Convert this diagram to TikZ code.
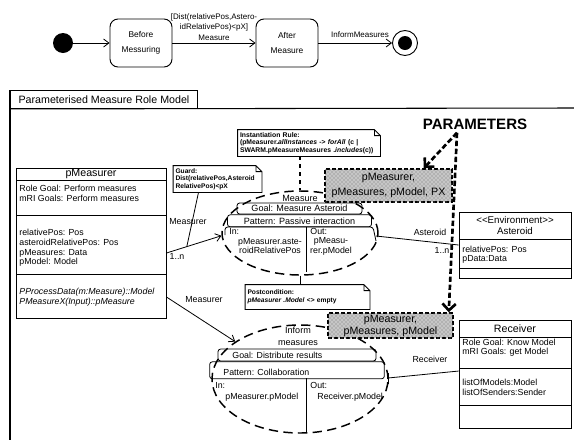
\documentclass[tikz,border=0pt]{standalone}
\usepackage{fontspec}
\setmainfont{Liberation Sans}
\usetikzlibrary{positioning,calc,arrows.meta,shapes.geometric,patterns}

\tikzset{
  statebox/.style={draw, rounded corners=6pt, line width=0.7pt, minimum width=46.5pt, minimum height=36pt, align=center, inner sep=0pt, font=\fontsize{6.3}{11}\selectfont},
  classbox/.style={draw, line width=0.7pt, inner sep=0pt},
  lbl/.style={inner sep=0pt, font=\fontsize{6.6}{7.4}\selectfont},
  lblb/.style={inner sep=0pt, font=\fontsize{8}{9}\selectfont},
  rolebox/.style={draw, ellipse, dash pattern=on 7pt off 4pt, line width=1.1pt, inner sep=0pt},
  rowbar/.style={draw, rounded corners=2pt, line width=0.6pt, inner sep=0pt, font=\fontsize{6.8}{7.4}\selectfont},
  notebox/.style={align=left, inner sep=1.5pt, font=\fontsize{5}{5.7}\selectfont\bfseries},
  parambox/.style={draw, dash pattern=on 3pt off 1.5pt, line width=1.1pt, fill=gray!45, postaction={pattern=crosshatch dots, pattern color=black!55}, align=center, inner sep=0pt},
  paramarrow/.style={dash pattern=on 4pt off 2pt, line width=2pt, -{Straight Barb[length=5pt,width=10pt]}},
  >={Straight Barb[length=4pt,width=6pt]}
}

\begin{document}
\begin{tikzpicture}[x=0.75pt,y=0.75pt,yscale=-1,xscale=1,line width=0.6pt]
\useasboundingbox (0,0) rectangle (574,440);

%Shape: Initial and final state
\node[circle, fill=black, inner sep=0pt, minimum size=15pt] (init) at (63,43) {};
\node[circle, draw, line width=0.7pt, inner sep=0pt, minimum size=18.75pt] (final) at (405,43) {};
\node[circle, fill=black, inner sep=0pt, minimum size=10.5pt] (finaldot) at (final.center) {};
%Shape: States
\node[statebox] (before) at (141,43) {Before\\Messuring};
\node[statebox] (after) at (287,43) {After\\Measure};
%Straight Lines
\draw[->] (init) -- (before);
\draw[->] (before) -- (after);
\draw[->] (after) -- (final);
% Text Node
\node[inner sep=0pt, align=center, font=\fontsize{6}{7.9}\selectfont] (guardtrans) at (214,27) {[Dist(relativePos,Astero-\\idRelativePos)<pX]\\Measure};
% Text Node
\node[inner sep=0pt, font=\fontsize{6}{7}\selectfont] (informtrans) at (360,35) {InformMeasures};

%Shape: Frame
\node[draw, line width=0.7pt, anchor=north west, minimum width=140.25pt, minimum height=13.5pt, inner sep=0pt, font=\fontsize{8}{9}\selectfont] (frametab) at (10,90) {Parameterised Measure Role Model};
\draw[line width=0.8pt] (frametab.north west) -- (10,440);
\draw[line width=0.8pt] (frametab.south west) -- (574,108);

%Shape: Class pMeasurer
\node[classbox, minimum width=112.5pt, minimum height=112.5pt] (pmeas) at (91,243) {};
\draw (16,180) -- (166,180);
\draw (16,215) -- (166,215);
\draw (16,274) -- (166,274);
% Text Node
\node[lblb] (pmeasname) at (91,174) {pMeasurer};
\node[lbl, anchor=north west, align=left] (pmeasgoal) at (19,184.5) {Role Goal: Perform measures\\mRI Goals: Perform measures};
\node[lbl, anchor=north west, align=left] (pmeasattr) at (19,228.5) {relativePos: Pos\\asteroidRelativePos: Pos\\pMeasures: Data\\pModel: Model};
\node[lbl, anchor=north west, align=left, font=\fontsize{6.6}{7.4}\selectfont\itshape] (pmeasops) at (19,287.5) {PProcessData(m:Measure)::Model\\PMeasureX(Input)::pMeasure};

%Shape: Class Asteroid
\node[classbox, minimum width=84pt, minimum height=49.5pt] (asteroid) at (515,245) {};
\draw (459,239) -- (571,239);
\draw (459,268) -- (571,268);
% Text Node
\node[lbl, align=center, font=\fontsize{7.3}{8.3}\selectfont] (astname) at (515,225.5) {<\kern0pt<Environment>\kern0pt>\\Asteroid};
\node[lbl, anchor=north west, align=left, font=\fontsize{6.6}{6.8}\selectfont] (astattr) at (462,245.5) {relativePos: Pos\\pData:Data};

%Shape: Class Receiver
\node[classbox, minimum width=84pt, minimum height=81pt] (receiver) at (515,374) {};
\draw (459,337) -- (571,337);
\draw (459,368) -- (571,368);
\draw (459,405) -- (571,405);
% Text Node
\node[lblb] (recname) at (515,329) {Receiver};
\node[lbl, anchor=north west, align=left, font=\fontsize{6.6}{6.8}\selectfont] (recgoal) at (462,338.5) {Role Goal: Know Model\\mRI Goals: get Model};
\node[lbl, anchor=north west, align=left] (recattr) at (462,378.7) {listOfModels:Model\\listOfSenders:Sender};

%Shape: Role Measure
\node[rolebox, minimum width=117pt, minimum height=63pt] (measure) at (300,233) {};
\node[lbl, font=\fontsize{6.8}{7.4}\selectfont] (measurename) at (300,198) {Measure};
\node[rowbar, minimum width=93.75pt, minimum height=8.25pt] (mgoal) at (299.5,208.5) {Goal: Measure Asteroid};
\node[rowbar, minimum width=108pt, minimum height=9pt, below=0pt of mgoal] (mpattern) {Pattern: Passive interaction};
\draw[rounded corners=2pt] (225,235) |- (373,227) -- (376,241);
\draw (306,227) -- (306,272);
% Text Node
\node[lbl, anchor=west] (min) at (229,231) {In:};
\node[lbl, align=center] (minval) at (270,246) {pMeasurer.aste-\\roidRelativePos};
\node[lbl, anchor=west] (mout) at (310,231) {Out:};
\node[lbl, align=center] (moutval) at (331,246) {pMeasu-\\rer.pModel};

%Shape: Role Inform measures
\node[rolebox, minimum width=132pt, minimum height=81pt] (inform) at (300,379) {};
\node[lbl, align=center, font=\fontsize{6.8}{9}\selectfont] (informname) at (298,336) {Inform\\measures};
\node[rowbar, minimum width=118.5pt, minimum height=9pt] (igoal) at (297,355) {};
\node[rowbar, minimum width=131pt, minimum height=12.75pt, below=0pt of igoal] (ipattern) {};
\draw (388,373) -- (388,384);
\draw (306,378) -- (306,433);
% Text Node
\node[lbl, anchor=west] (igoaltxt) at (232,355) {Goal: Distribute results};
\node[lbl, anchor=west] (ipattxt) at (223,372) {Pattern: Collaboration};
\node[lbl, anchor=west] (iin) at (215,385) {In:};
\node[lbl, anchor=west] (iinval) at (225,397) {pMeasurer.pModel};
\node[lbl, anchor=west] (iout) at (310,385) {Out:};
\node[lbl, anchor=west] (ioutval) at (317,397) {Receiver.pModel};

%Shape: Notes
\node[notebox, text width=63pt, minimum height=19.5pt] (guard) at (217.5,179) {Guard:\\Dist(relativePos,Asteroid\\RelativePos)<pX};
\node[notebox, text width=103.5pt, minimum height=19.5pt, font=\fontsize{5.1}{5.6}\selectfont\bfseries] (instrule) at (309,143) {Instantiation Rule:\\(pMeasurer.\textit{allInstances} -> \textit{forAll} (c |\\SWARM.pMeasureMeasures .\textit{includes}(c))};
\node[notebox, text width=90pt, minimum height=18pt] (postcond) at (307.5,297) {Postcondition:\\\textit{pMeasurer .Model} <> empty};
\foreach \n in {guard,instrule,postcond}
  \draw (\n.south west) -- (\n.north west) -- ($(\n.north east)+(-6,0)$) -- ($(\n.north east)+(0,6)$) -- (\n.south east) -- cycle ($(\n.north east)+(-6,0)$) |- ($(\n.north east)+(0,6)$);

%Shape: Parameter boxes
\node[parambox, minimum width=95.25pt, minimum height=24.75pt, font=\fontsize{8}{11.25}\selectfont] (pbox1) at (388.5,185.5) {pMeasurer,\\pMeasures, pModel, PX};
\node[parambox, minimum width=93.75pt, minimum height=18.75pt, font=\fontsize{8}{9}\selectfont] (pbox2) at (390.5,325.5) {pMeasurer,\\pMeasures, pModel};
% Text Node
\node[inner sep=0pt, font=\fontsize{11.3}{12}\selectfont\bfseries] (params) at (475,124) {PARAMETERS};
\coordinate (pfrom) at ($(params.south)+(-18,3)$);
\draw[paramarrow] (pfrom) -- ($(pbox1.north east)+(-29,0)$);
\draw[paramarrow] (pfrom) -- ($(pbox2.north east)+(-5,0)$);

%Straight Lines: associations
\draw[->] ($(pmeas.east)+(0,10)$) -- node[pos=0.37, coordinate] (guardpt) {} (measure.182);
\draw (guardpt) -- ($(guard.south)+(-19,0)$);
\draw[->] ($(pmeas.east)+(0,54)$) -- (inform.150);
\coordinate (moutend) at (376,236);
\draw (moutend) -- (asteroid.west);
\coordinate (ioutend) at (388,378);
\draw (ioutend) -- (receiver.177);
\draw[dashed, line width=0.8pt] (instrule.south -| measure.north) -- (measure.north);
\draw (measure.south) -- (postcond.north -| measure.south);
% Text Node
\node[lbl] (measurer1) at (188,222) {Measurer};
\node[lbl] (mult1) at (177,256) {1..n};
\node[lbl] (measurer2) at (204,300) {Measurer};
\node[lbl] (astlbl) at (430,232) {Asteroid};
\node[lbl] (mult2) at (442,250) {1..n};
\node[lbl] (reclbl) at (430,359) {Receiver};

\end{tikzpicture}
\end{document}
